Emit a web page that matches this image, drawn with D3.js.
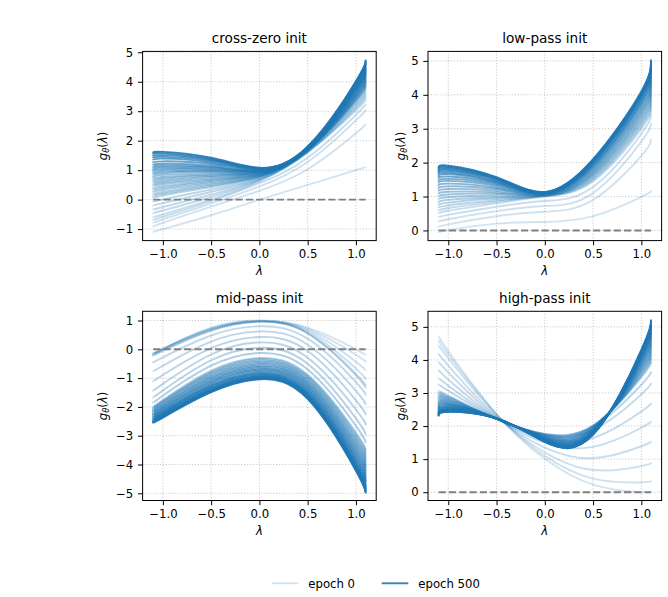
<!DOCTYPE html>
<html>
<head>
<meta charset="utf-8">
<script src="https://cdn.jsdelivr.net/npm/d3@7"></script>
<style>
  body { margin: 0; background: #fff; }
  svg { display: block; }
  text { font-family: "DejaVu Sans", sans-serif; }
</style>
</head>
<body>
<svg id="chart" width="668" height="597"></svg>
<script>
// ---------------- data ----------------
const lambdaGrid = [-1.1, -1.0, -0.5, 0, 0.5, 1.0, 1.1];
const xTicks = [-1.0, -0.5, 0.0, 0.5, 1.0];

const crossZeroCurves = [
  [-1.10, -1.00, -0.53, 0.00, 0.50, 1.00, 1.11],
  [-0.93, -0.79, -0.24, 0.30, 1.03, 2.25, 2.57],
  [-0.80, -0.67, -0.13, 0.45, 1.28, 2.69, 3.05],
  [-0.70, -0.58, -0.05, 0.56, 1.42, 2.88, 3.25],
  [-0.60, -0.50, 0.00, 0.62, 1.60, 3.03, 3.40],
  [-0.47, -0.37, 0.09, 0.65, 1.61, 3.09, 3.48],
  [-0.34, -0.25, 0.17, 0.68, 1.62, 3.15, 3.56],
  [-0.21, -0.12, 0.26, 0.70, 1.64, 3.21, 3.64],
  [-0.08, 0.01, 0.34, 0.73, 1.65, 3.27, 3.72],
  [0.05, 0.14, 0.43, 0.76, 1.66, 3.33, 3.81],
  [0.12, 0.20, 0.47, 0.77, 1.67, 3.36, 3.85],
  [0.18, 0.26, 0.51, 0.79, 1.67, 3.39, 3.89],
  [0.25, 0.33, 0.55, 0.80, 1.68, 3.42, 3.93],
  [0.32, 0.39, 0.60, 0.81, 1.68, 3.45, 3.97],
  [0.38, 0.45, 0.64, 0.83, 1.69, 3.48, 4.01],
  [0.45, 0.52, 0.68, 0.84, 1.70, 3.51, 4.05],
  [0.51, 0.58, 0.72, 0.85, 1.70, 3.53, 4.09],
  [0.58, 0.64, 0.77, 0.87, 1.71, 3.56, 4.13],
  [0.64, 0.71, 0.81, 0.88, 1.71, 3.59, 4.17],
  [0.71, 0.77, 0.85, 0.90, 1.72, 3.62, 4.21],
  [0.77, 0.84, 0.89, 0.91, 1.73, 3.65, 4.25],
  [0.84, 0.90, 0.94, 0.92, 1.73, 3.68, 4.29],
  [0.89, 0.95, 0.97, 0.94, 1.74, 3.71, 4.32],
  [0.95, 1.01, 1.01, 0.95, 1.74, 3.73, 4.36],
  [1.00, 1.06, 1.04, 0.96, 1.75, 3.76, 4.39],
  [1.06, 1.11, 1.08, 0.97, 1.75, 3.78, 4.43],
  [1.11, 1.16, 1.11, 0.98, 1.76, 3.81, 4.46],
  [1.17, 1.22, 1.15, 0.99, 1.76, 3.83, 4.49],
  [1.25, 1.30, 1.21, 1.01, 1.77, 3.87, 4.55],
  [1.34, 1.39, 1.26, 1.03, 1.78, 3.91, 4.60],
  [1.41, 1.45, 1.31, 1.04, 1.78, 3.94, 4.64],
  [1.47, 1.51, 1.35, 1.06, 1.79, 3.97, 4.68],
  [1.53, 1.57, 1.38, 1.07, 1.80, 4.00, 4.72],
  [1.58, 1.62, 1.42, 1.08, 1.80, 4.02, 4.75]
];
const crossZeroEpochs = [0,10,20,30,40,50,60,70,80,90,100,110,120,130,140,150,160,170,180,190,200,215,230,245,260,275,290,310,330,360,390,420,460,500];

const lowPassCurves = [
  [-0.07, 0.01, 0.20, 0.25, 0.42, 0.99, 1.17],
  [0.10, 0.18, 0.42, 0.55, 0.90, 2.20, 2.70],
  [0.25, 0.33, 0.57, 0.72, 1.10, 2.62, 3.18],
  [0.38, 0.46, 0.70, 0.87, 1.28, 2.85, 3.42],
  [0.50, 0.58, 0.80, 1.00, 1.45, 3.00, 3.55],
  [0.58, 0.66, 0.85, 1.01, 1.49, 3.07, 3.64],
  [0.66, 0.74, 0.89, 1.02, 1.53, 3.13, 3.73],
  [0.74, 0.82, 0.94, 1.02, 1.57, 3.20, 3.82],
  [0.82, 0.90, 0.98, 1.03, 1.61, 3.26, 3.91],
  [0.91, 0.98, 1.03, 1.04, 1.65, 3.33, 4.00],
  [0.99, 1.06, 1.08, 1.05, 1.68, 3.40, 4.09],
  [1.07, 1.14, 1.12, 1.05, 1.72, 3.46, 4.18],
  [1.15, 1.22, 1.17, 1.06, 1.76, 3.53, 4.27],
  [1.23, 1.30, 1.22, 1.07, 1.80, 3.59, 4.35],
  [1.31, 1.38, 1.26, 1.08, 1.84, 3.66, 4.44],
  [1.39, 1.46, 1.31, 1.09, 1.88, 3.73, 4.53],
  [1.46, 1.52, 1.35, 1.09, 1.91, 3.78, 4.61],
  [1.53, 1.59, 1.39, 1.10, 1.94, 3.84, 4.68],
  [1.59, 1.66, 1.42, 1.11, 1.98, 3.89, 4.76],
  [1.65, 1.71, 1.45, 1.11, 2.00, 3.94, 4.82],
  [1.70, 1.76, 1.49, 1.12, 2.03, 3.98, 4.88],
  [1.74, 1.80, 1.51, 1.12, 2.05, 4.01, 4.92],
  [1.78, 1.84, 1.53, 1.12, 2.07, 4.05, 4.97],
  [1.82, 1.88, 1.55, 1.13, 2.08, 4.07, 5.00],
  [1.85, 1.91, 1.57, 1.13, 2.10, 4.10, 5.04]
];
const lowPassEpochs = [0,10,20,30,40,60,80,100,120,140,160,180,200,225,250,275,300,325,350,375,400,425,450,475,500];

const midPassCurves = [
  [-0.21, 0.00, 0.75, 1.00, 0.75, 0.00, -0.21],
  [-0.17, 0.02, 0.73, 0.99, 0.71, -0.19, -0.45],
  [-0.15, 0.02, 0.71, 0.98, 0.66, -0.43, -0.75],
  [-0.15, 0.01, 0.69, 0.97, 0.60, -0.67, -1.05],
  [-0.19, -0.03, 0.66, 0.96, 0.56, -0.85, -1.28],
  [-0.22, -0.06, 0.65, 0.96, 0.55, -0.91, -1.36],
  [-0.45, -0.28, 0.48, 0.80, 0.37, -1.14, -1.60],
  [-0.77, -0.57, 0.27, 0.62, 0.16, -1.44, -1.93],
  [-1.12, -0.89, 0.04, 0.43, -0.06, -1.77, -2.28],
  [-1.45, -1.20, -0.18, 0.24, -0.29, -2.09, -2.63],
  [-1.68, -1.43, -0.38, 0.05, -0.50, -2.40, -2.97],
  [-1.86, -1.61, -0.57, -0.13, -0.70, -2.66, -3.25],
  [-2.00, -1.76, -0.74, -0.30, -0.88, -2.89, -3.50],
  [-2.03, -1.80, -0.79, -0.34, -0.93, -2.97, -3.59],
  [-2.06, -1.83, -0.83, -0.39, -0.98, -3.05, -3.68],
  [-2.10, -1.87, -0.88, -0.43, -1.03, -3.13, -3.77],
  [-2.13, -1.91, -0.92, -0.48, -1.08, -3.21, -3.86],
  [-2.16, -1.94, -0.97, -0.52, -1.13, -3.29, -3.95],
  [-2.19, -1.98, -1.01, -0.57, -1.18, -3.37, -4.04],
  [-2.23, -2.02, -1.06, -0.61, -1.23, -3.45, -4.13],
  [-2.26, -2.05, -1.10, -0.66, -1.28, -3.53, -4.22],
  [-2.29, -2.09, -1.15, -0.70, -1.33, -3.61, -4.31],
  [-2.32, -2.13, -1.19, -0.74, -1.38, -3.69, -4.40],
  [-2.36, -2.16, -1.24, -0.79, -1.43, -3.77, -4.49],
  [-2.38, -2.19, -1.27, -0.83, -1.48, -3.83, -4.57],
  [-2.41, -2.22, -1.31, -0.86, -1.52, -3.90, -4.64],
  [-2.44, -2.25, -1.35, -0.90, -1.56, -3.97, -4.72],
  [-2.46, -2.28, -1.38, -0.93, -1.59, -4.02, -4.78],
  [-2.48, -2.30, -1.41, -0.96, -1.63, -4.07, -4.84],
  [-2.50, -2.32, -1.43, -0.98, -1.65, -4.11, -4.88],
  [-2.51, -2.34, -1.45, -1.00, -1.68, -4.15, -4.93],
  [-2.53, -2.35, -1.47, -1.02, -1.70, -4.19, -4.96],
  [-2.54, -2.37, -1.49, -1.04, -1.72, -4.22, -5.00]
];
const midPassEpochs = [0,10,20,30,40,50,60,70,80,90,100,110,120,140,160,180,200,220,240,260,280,300,320,340,360,380,400,420,440,460,480,490,500];

const highPassCurves = [
  [4.72, 4.27, 2.36, 1.01, 0.23, 0.00, 0.03],
  [4.60, 4.17, 2.36, 1.10, 0.41, 0.30, 0.35],
  [4.45, 4.05, 2.34, 1.20, 0.67, 0.79, 0.90],
  [4.20, 3.83, 2.30, 1.35, 1.03, 1.39, 1.55],
  [3.95, 3.62, 2.27, 1.50, 1.37, 1.95, 2.15],
  [3.70, 3.41, 2.25, 1.62, 1.64, 2.44, 2.70],
  [3.45, 3.22, 2.24, 1.72, 1.88, 2.96, 3.30],
  [3.25, 3.07, 2.23, 1.76, 1.99, 3.25, 3.65],
  [3.05, 2.92, 2.22, 1.76, 2.02, 3.47, 3.95],
  [3.00, 2.89, 2.22, 1.75, 2.00, 3.52, 4.03],
  [2.96, 2.86, 2.22, 1.73, 1.99, 3.57, 4.10],
  [2.91, 2.83, 2.22, 1.72, 1.97, 3.62, 4.18],
  [2.87, 2.80, 2.22, 1.70, 1.95, 3.67, 4.25],
  [2.82, 2.77, 2.22, 1.69, 1.94, 3.72, 4.33],
  [2.78, 2.74, 2.22, 1.67, 1.92, 3.77, 4.41],
  [2.73, 2.71, 2.22, 1.66, 1.90, 3.82, 4.48],
  [2.69, 2.68, 2.22, 1.64, 1.89, 3.87, 4.56],
  [2.64, 2.66, 2.23, 1.63, 1.87, 3.92, 4.64],
  [2.59, 2.63, 2.23, 1.62, 1.85, 3.97, 4.71],
  [2.55, 2.60, 2.23, 1.60, 1.84, 4.02, 4.79],
  [2.51, 2.57, 2.23, 1.59, 1.82, 4.06, 4.85],
  [2.47, 2.55, 2.23, 1.58, 1.81, 4.10, 4.92],
  [2.43, 2.52, 2.23, 1.57, 1.79, 4.14, 4.98],
  [2.40, 2.50, 2.23, 1.56, 1.78, 4.18, 5.03],
  [2.37, 2.48, 2.23, 1.55, 1.77, 4.21, 5.08],
  [2.35, 2.47, 2.23, 1.54, 1.76, 4.23, 5.12],
  [2.33, 2.45, 2.23, 1.53, 1.75, 4.26, 5.16],
  [2.31, 2.44, 2.23, 1.53, 1.75, 4.28, 5.19],
  [2.29, 2.43, 2.23, 1.52, 1.74, 4.30, 5.22]
];
const highPassEpochs = [0,10,20,30,40,50,60,70,80,100,120,140,160,180,200,225,250,275,300,325,350,375,400,425,450,470,485,495,500];

const panelTitles = ["cross-zero init", "low-pass init", "mid-pass init", "high-pass init"];
const yTicks1 = [-1, 0, 1, 2, 3, 4, 5];
const yTicks2 = [0, 1, 2, 3, 4, 5];
const yTicks3 = [-5, -4, -3, -2, -1, 0, 1];
const yTicks4 = [0, 1, 2, 3, 4, 5];
const legendLabels = ["epoch 0", "epoch 500"];
const legendEpochs = [0, 500];
const maxEpoch = 500;

// ---------------- layout / style ----------------
const W = 233.6, H = 189.2;
const BLUE = "#1f77b4";
const alphaOf = e => 0.2 + 0.7 * e / maxEpoch;

const panels = [
  {title: panelTitles[0], curves: crossZeroCurves, epochs: crossZeroEpochs, yDomain: [-1.39, 5.03], yTicks: yTicks1, left: 142.6, top: 51.4, ylabOff: 39.5},
  {title: panelTitles[1], curves: lowPassCurves,   epochs: lowPassEpochs,   yDomain: [-0.30, 5.28], yTicks: yTicks2, left: 428.0, top: 51.4, ylabOff: 27},
  {title: panelTitles[2], curves: midPassCurves,   epochs: midPassEpochs,   yDomain: [-5.25, 1.32], yTicks: yTicks3, left: 142.6, top: 311.3, ylabOff: 39.5},
  {title: panelTitles[3], curves: highPassCurves,  epochs: highPassEpochs,  yDomain: [-0.25, 5.47], yTicks: yTicks4, left: 428.0, top: 311.3, ylabOff: 27}
];

const svg = d3.select("#chart");
svg.append("rect").attr("width", 668).attr("height", 597).attr("fill", "#fff");

const FS = 11.7;

panels.forEach(p => {
  const g = svg.append("g").attr("transform", `translate(${p.left},${p.top})`);
  const x = d3.scaleLinear().domain([-1.21, 1.21]).range([0, W]);
  const y = d3.scaleLinear().domain(p.yDomain).range([H, 0]);

  // grid
  const grid = g.append("g").attr("stroke", "#b0b0b0").attr("stroke-width", 0.8)
    .attr("stroke-dasharray", "1.1,1.8").attr("opacity", 0.85);
  xTicks.forEach(t => grid.append("line").attr("x1", x(t)).attr("x2", x(t)).attr("y1", 0).attr("y2", H));
  p.yTicks.forEach(t => grid.append("line").attr("x1", 0).attr("x2", W).attr("y1", y(t)).attr("y2", y(t)));

  // curves
  const line = d3.line()
    .x((d, i) => x(lambdaGrid[i]))
    .y(d => y(d))
    .curve(d3.curveNatural);
  p.curves.forEach((c, i) => {
    g.append("path").attr("d", line(c))
      .attr("fill", "none")
      .attr("stroke", BLUE)
      .attr("stroke-opacity", alphaOf(p.epochs[i]))
      .attr("stroke-width", 1.9)
      .attr("stroke-linejoin", "round")
      .attr("stroke-linecap", "butt");
  });

  // zero reference
  g.append("line")
    .attr("x1", x(-1.1)).attr("x2", x(1.1))
    .attr("y1", y(0)).attr("y2", y(0))
    .attr("stroke", "#808080").attr("stroke-width", 1.9)
    .attr("stroke-dasharray", "7.2,3.1");

  // axes
  const ax = g.append("g").attr("transform", `translate(0,${H})`)
    .call(d3.axisBottom(x).tickValues(xTicks).tickSize(4.7).tickPadding(4.6).tickFormat(d3.format(".1f")));
  const ay = g.append("g")
    .call(d3.axisLeft(y).tickValues(p.yTicks).tickSize(4.7).tickPadding(4.6).tickFormat(d3.format("d")));
  [ax, ay].forEach(a => {
    a.select(".domain").remove();
    a.attr("font-family", "DejaVu Sans").attr("font-size", FS);
    a.selectAll(".tick line").attr("stroke", "#000").attr("stroke-width", 1);
    a.selectAll(".tick text").attr("fill", "#000");
  });

  // spines
  g.append("rect").attr("width", W).attr("height", H)
    .attr("fill", "none").attr("stroke", "#000").attr("stroke-width", 1);

  // title
  g.append("text").attr("x", W / 2).attr("y", -8)
    .attr("text-anchor", "middle").attr("font-size", 13.6).attr("fill", "#000")
    .text(p.title);

  // x label
  g.append("text").attr("x", W / 2).attr("y", H + 34.5)
    .attr("text-anchor", "middle").attr("font-size", FS).attr("font-style", "italic")
    .attr("fill", "#000").text("λ");

  // y label  g_θ(λ)
  const yl = g.append("text")
    .attr("transform", `translate(${-p.ylabOff + 3.6},${H / 2}) rotate(-90)`)
    .attr("text-anchor", "middle").attr("font-size", FS).attr("fill", "#000");
  yl.append("tspan").attr("font-style", "italic").text("g");
  yl.append("tspan").attr("font-style", "italic").attr("font-size", FS * 0.7).attr("dy", 2.5).text("θ");
  yl.append("tspan").attr("dy", -2.5).text("(");
  yl.append("tspan").attr("font-style", "italic").text("λ");
  yl.append("tspan").text(")");
});

// legend
const legendX = [271.7, 381.7];
const lg = svg.append("g");
legendLabels.forEach((lab, i) => {
  lg.append("line").attr("x1", legendX[i]).attr("x2", legendX[i] + 26.6)
    .attr("y1", 583.3).attr("y2", 583.3)
    .attr("stroke", BLUE).attr("stroke-opacity", alphaOf(legendEpochs[i])).attr("stroke-width", 1.9);
  lg.append("text").attr("x", legendX[i] + 36.6).attr("y", 587.6)
    .attr("font-size", FS).attr("fill", "#000").text(lab);
});
</script>
</body>
</html>
